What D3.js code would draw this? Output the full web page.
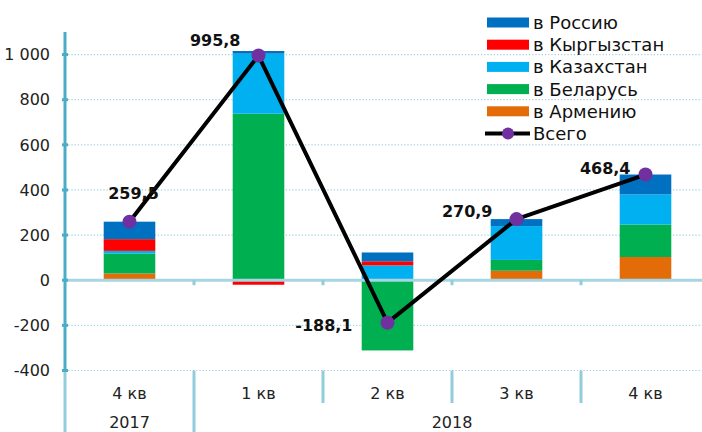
<!DOCTYPE html>
<html lang="ru">
<head>
<meta charset="UTF-8">
<title>Потоки по странам</title>
<script src="https://d3js.org/d3.v7.min.js"></script>
<style>
  body { margin: 0; padding: 0; background: #fff; overflow: hidden; }
  svg { display: block; font-family: "DejaVu Sans", "Liberation Sans", sans-serif; }
</style>
</head>
<body>
<svg id="chart" width="702" height="432"></svg>
<script>
// данные по кварталам
const quarters = ["4 кв", "1 кв", "2 кв", "3 кв", "4 кв"];
const years = ["2017", "2018", "2018", "2018", "2018"];
const russia     = [77.5, 12, 39, 30.9, 88.4];
const kyrgyzstan = [52, -20, 18, 0, 0];
const kazakhstan = [12, 265.8, 66, 150, 133];
const belarus    = [88, 738, -311.1, 48, 144];
const armenia    = [30, 0, 0, 42, 103];
const total      = [259.5, 995.8, -188.1, 270.9, 468.4];
const yTicks = [-400, -200, 0, 200, 400, 600, 800, 1000];

const seriesNames = ["в Россию", "в Кыргызстан", "в Казахстан", "в Беларусь", "в Армению"];
const seriesData = [russia, kyrgyzstan, kazakhstan, belarus, armenia];
const colors = ["#0070c0", "#ff0000", "#00b0f0", "#00b050", "#e36c09"];

// смещения подписей итогов относительно точки: [dx, dy, anchor]
const labelOffsets = [[4, -23, "middle"], [-18, -10, "end"], [-35, 8, "end"], [-24, -2, "end"], [-15, -1, "end"]];

const svg = d3.select("#chart");
const x0 = 65, x1 = 710, yTop = 32, yBottom = 432;

const x = d3.scaleBand().domain(d3.range(quarters.length)).range([x0, x1]).padding(0);
const y = d3.scaleLinear().domain([-400, 1100]).range([370.5, yTop]);
const barW = x.bandwidth() * 0.4;

// русский формат: пробел для тысяч, запятая для дробей, обычный дефис
const ru = d3.formatLocale({decimal: ",", thousands: " ", grouping: [3], currency: ["", ""], minus: "-"});

// таблица для stack (снизу вверх: Армения ... Россия)
const keys = [4, 3, 2, 1, 0];
const rows = quarters.map((q, i) => {
    const r = {i: i};
    keys.forEach(k => r[k] = seriesData[k][i]);
    return r;
});
const stack = d3.stack().keys(keys).offset(d3.stackOffsetDiverging);
const layers = stack(rows);

// сетка
svg.append("g").selectAll("line")
    .data(yTicks.filter(t => t !== 0))
    .join("line")
    .attr("x1", x0).attr("x2", 702)
    .attr("y1", d => y(d)).attr("y2", d => y(d))
    .attr("stroke", "#9dd0e2")
    .attr("stroke-width", 1.2)
    .attr("stroke-dasharray", "1.2,2");

// столбцы
svg.append("g").selectAll("g")
    .data(layers)
    .join("g")
    .attr("fill", d => colors[d.key])
    .selectAll("rect")
    .data(d => d)
    .join("rect")
    .attr("x", d => x(d.data.i) + (x.bandwidth() - barW) / 2)
    .attr("width", barW)
    .attr("y", d => y(Math.max(d[0], d[1])))
    .attr("height", d => Math.abs(y(d[0]) - y(d[1])));

// нулевая линия
svg.append("line")
    .attr("x1", x0).attr("x2", 702)
    .attr("y1", y(0)).attr("y2", y(0))
    .attr("stroke", "#a6d6e3").attr("stroke-width", 3);

// мелкие засечки на нулевой линии
svg.append("g").selectAll("line")
    .data(d3.range(1, quarters.length))
    .join("line")
    .attr("x1", d => x(d)).attr("x2", d => x(d))
    .attr("y1", y(0)).attr("y2", y(0) + 5)
    .attr("stroke", "#92cddc").attr("stroke-width", 3);

// ось Y
svg.append("line")
    .attr("x1", x0).attr("x2", x0)
    .attr("y1", yTop).attr("y2", y(-400))
    .attr("stroke", "#4bacc6").attr("stroke-width", 3);
svg.append("line")
    .attr("x1", x0).attr("x2", x0)
    .attr("y1", y(-400)).attr("y2", yBottom)
    .attr("stroke", "#92cddc").attr("stroke-width", 3);

svg.append("g").selectAll("line")
    .data(yTicks)
    .join("line")
    .attr("x1", x0 - 3).attr("x2", x0 + 3)
    .attr("y1", d => y(d)).attr("y2", d => y(d))
    .attr("stroke", "#4bacc6").attr("stroke-width", 3);

svg.append("g").selectAll("text")
    .data(yTicks)
    .join("text")
    .attr("x", 50)
    .attr("y", d => y(d))
    .attr("dy", "0.36em")
    .attr("text-anchor", "end")
    .attr("font-size", 16)
    .attr("fill", "#222")
    .text(ru.format(",d"));

// категории
svg.append("g").selectAll("line")
    .data(d3.range(1, quarters.length))
    .join("line")
    .attr("x1", d => x(d)).attr("x2", d => x(d))
    .attr("y1", y(-400))
    .attr("y2", d => years[d] !== years[d - 1] ? yBottom : 403)
    .attr("stroke", "#92cddc").attr("stroke-width", 3);

svg.append("g").selectAll("text")
    .data(quarters)
    .join("text")
    .attr("x", (d, i) => x(i) + x.bandwidth() / 2)
    .attr("y", 399)
    .attr("text-anchor", "middle")
    .attr("font-size", 16)
    .attr("fill", "#222")
    .text(d => d);

const yearGroups = d3.groups(years.map((yr, i) => ({yr, i})), d => d.yr);
svg.append("g").selectAll("text")
    .data(yearGroups)
    .join("text")
    .attr("x", d => (x(d[1][0].i) + x(d[1][d[1].length - 1].i) + x.bandwidth()) / 2)
    .attr("y", 428)
    .attr("text-anchor", "middle")
    .attr("font-size", 16)
    .attr("fill", "#222")
    .text(d => d[0]);

// линия "Всего"
const cx = i => x(i) + x.bandwidth() / 2;
svg.append("path")
    .datum(total)
    .attr("fill", "none")
    .attr("stroke", "#000")
    .attr("stroke-width", 4)
    .attr("stroke-linejoin", "round")
    .attr("d", d3.line().x((d, i) => cx(i)).y(d => y(d)));

svg.append("g").selectAll("circle")
    .data(total)
    .join("circle")
    .attr("cx", (d, i) => cx(i))
    .attr("cy", d => y(d))
    .attr("r", 7)
    .attr("fill", "#7030a0");

svg.append("g").selectAll("text")
    .data(total)
    .join("text")
    .attr("x", (d, i) => cx(i) + labelOffsets[i][0])
    .attr("y", (d, i) => y(d) + labelOffsets[i][1])
    .attr("text-anchor", (d, i) => labelOffsets[i][2])
    .attr("font-size", 16)
    .attr("font-weight", "bold")
    .attr("fill", "#111")
    .text(ru.format(".1f"));

// легенда
const legend = svg.append("g").attr("transform", "translate(487, 22.5)");
const rowH = 22.2;
seriesNames.forEach((name, k) => {
    const g = legend.append("g").attr("transform", `translate(0, ${k * rowH})`);
    g.append("rect").attr("x", 0).attr("y", -5).attr("width", 42).attr("height", 10)
        .attr("fill", colors[k]);
    g.append("text").attr("x", 46).attr("dy", "0.36em")
        .attr("font-size", 18).attr("fill", "#111").text(name);
});
const lg = legend.append("g").attr("transform", `translate(0, ${5 * rowH})`);
lg.append("line").attr("x1", -2).attr("x2", 43).attr("stroke", "#000").attr("stroke-width", 4);
lg.append("circle").attr("cx", 21).attr("r", 6).attr("fill", "#7030a0");
lg.append("text").attr("x", 46).attr("dy", "0.36em")
    .attr("font-size", 18).attr("fill", "#111").text("Всего");
</script>
</body>
</html>
